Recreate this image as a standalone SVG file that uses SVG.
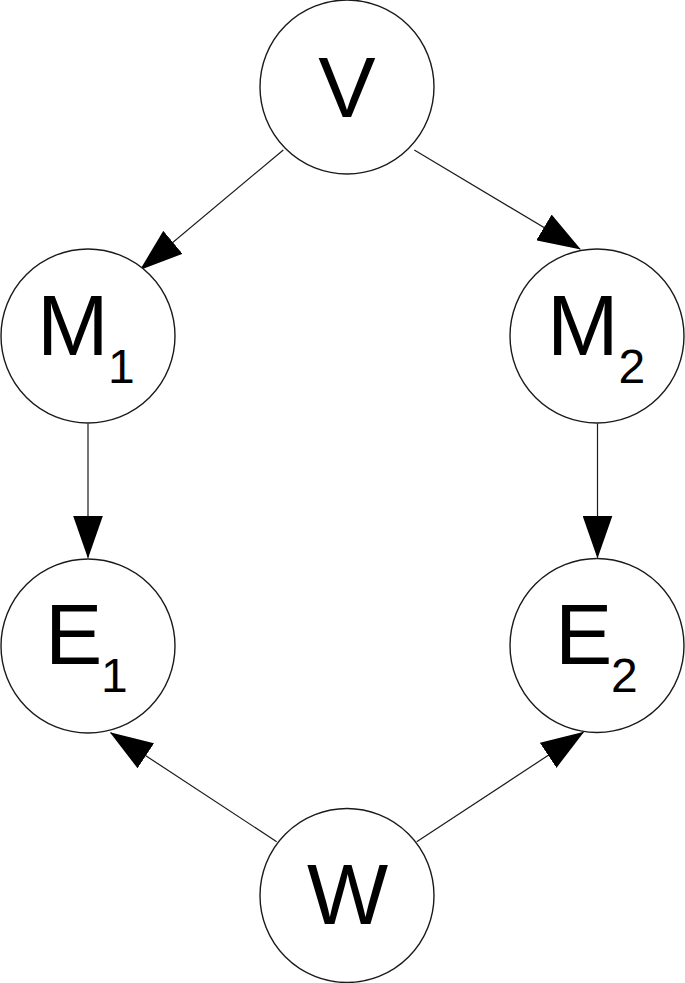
<svg xmlns="http://www.w3.org/2000/svg" width="685" height="983" viewBox="0 0 685 983">
<style>
.node circle{fill:#fff;stroke:#1a1a1a;stroke-width:1.4}
.lbl{font-family:"Liberation Sans",Arial,sans-serif;font-size:86px;fill:#000}
.sub{font-family:"Liberation Sans",Arial,sans-serif;font-size:48px;fill:#000}
.edge{stroke:#1a1a1a;stroke-width:1.2;fill:none;marker-end:url(#arr)}
</style>
<defs>
<marker id="arr" markerUnits="userSpaceOnUse" markerWidth="43" markerHeight="30" viewBox="0 0 43 30" refX="42" refY="15" orient="auto">
<path d="M0,0 L43,15 L0,30 z" fill="#000"/>
</marker>
</defs>
<rect width="685" height="983" fill="#fff"/>
<g id="connectors">
<line class="edge" x1="283.3" y1="150" x2="140.7" y2="269.3"/>
<line class="edge" x1="414.3" y1="150" x2="580" y2="249"/>
<line class="edge" x1="88" y1="423.5" x2="88" y2="557.5"/>
<line class="edge" x1="597.5" y1="423.5" x2="597.5" y2="557.5"/>
<line class="edge" x1="276.7" y1="841.7" x2="110.7" y2="732.7"/>
<line class="edge" x1="416.7" y1="841.7" x2="583.3" y2="732.3"/>
</g>
<g id="V" class="node"><circle cx="347" cy="87" r="87"/><text class="lbl" x="347" y="117" text-anchor="middle">V</text></g>
<g id="M1" class="node"><circle cx="88" cy="336" r="87"/><text class="lbl" x="37" y="355">M</text><text class="sub" x="108" y="382.7">1</text></g>
<g id="M2" class="node"><circle cx="597" cy="336" r="87"/><text class="lbl" x="547" y="355">M</text><text class="sub" x="618.5" y="382.7">2</text></g>
<g id="E1" class="node"><circle cx="88" cy="646" r="87"/><text class="lbl" x="45" y="664">E</text><text class="sub" x="101" y="691.7">1</text></g>
<g id="E2" class="node"><circle cx="597" cy="645.5" r="87"/><text class="lbl" x="555" y="664">E</text><text class="sub" x="611" y="691.7">2</text></g>
<g id="W" class="node"><circle cx="347" cy="895.5" r="87"/><text class="lbl" x="347.5" y="924.3" text-anchor="middle">W</text></g>
</svg>
